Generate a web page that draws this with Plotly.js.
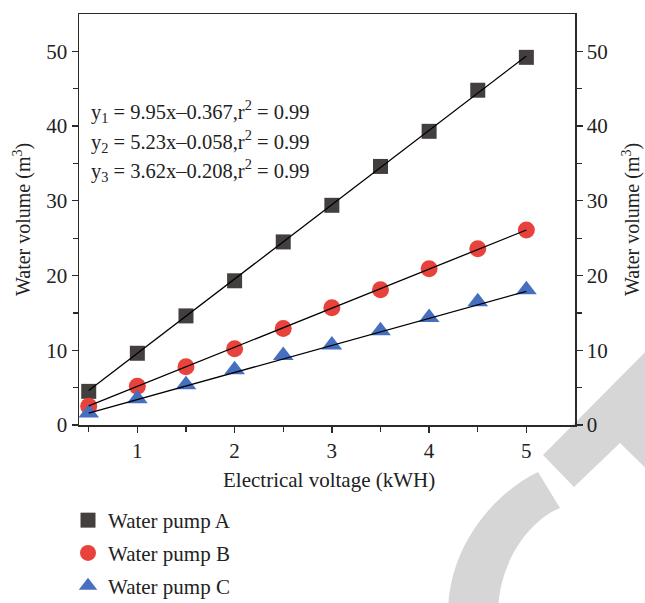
<!DOCTYPE html>
<html>
<head>
<meta charset="utf-8">
<script src="https://cdn.plot.ly/plotly-3.0.1.min.js"></script>
<style>html,body{margin:0;padding:0;background:#fff;}#chart{width:645px;height:603px;}</style>
</head>
<body>
<div id="chart"></div>
<script>
var voltage = [0.5, 1, 1.5, 2, 2.5, 3, 3.5, 4, 4.5, 5];
var pumpA = [4.5, 9.6, 14.6, 19.3, 24.5, 29.4, 34.6, 39.3, 44.8, 49.2];
var pumpB = [2.5, 5.2, 7.8, 10.2, 12.9, 15.7, 18.1, 20.9, 23.6, 26.1];
var pumpC = [1.6, 3.5, 5.4, 7.4, 9.3, 10.7, 12.6, 14.4, 16.5, 18.1];
var seriesNames = ["Water pump A", "Water pump B", "Water pump C"];
var slopes = [9.95, 5.23, 3.62];
var intercepts = [-0.367, -0.058, -0.208];
var fitRange = [0.5, 5];
var equations = [
  "y<sub>1</sub> = 9.95x\u20130.367,r<sup>2</sup> = 0.99",
  "y<sub>2</sub> = 5.23x\u20130.058,r<sup>2</sup> = 0.99",
  "y<sub>3</sub> = 3.62x\u20130.208,r<sup>2</sup> = 0.99"
];
var xTitle = "Electrical voltage (kWH)";
var yTitle = "Water volume (m<sup>3</sup>)";

var W = 645, H = 603, L = 79, R = 70, T = 14, B = 178;
var pw = W - L - R, ph = H - T - B;
function px(x){ return (x - L) / pw; }
function py(y){ return (H - B - y) / ph; }

var FONT = "Liberation Serif, Times New Roman, serif";
var colors = ["#433f3e", "#e8423d", "#4670bf"];
var symbols = ["square", "circle", "triangle-up"];
var sizes = [15, 17, 18];
var data = [pumpA, pumpB, pumpC];

var traces = [];
for (var i = 0; i < 3; i++) {
  traces.push({
    x: voltage, y: data[i], type: "scatter", mode: "markers",
    name: seriesNames[i], legendgroup: "g" + i,
    marker: {symbol: symbols[i], size: sizes[i], color: colors[i], line: {width: 0}}
  });
}
for (var j = 0; j < 3; j++) {
  traces.push({
    x: fitRange,
    y: fitRange.map(function(v){ return slopes[j] * v + intercepts[j]; }),
    type: "scatter", mode: "lines", showlegend: false, hoverinfo: "skip",
    line: {color: "#000", width: 1.3}
  });
}
traces.push({x: [fitRange[0]], y: [0], yaxis: "y2", type: "scatter", mode: "markers",
  marker: {opacity: 0}, showlegend: false, hoverinfo: "skip"});

var axisCommon = {
  showline: true, linecolor: "#2a2a2a", linewidth: 1.5, showgrid: false, zeroline: false,
  ticks: "outside", ticklen: 6, tickwidth: 1.3, tickcolor: "#2a2a2a",
  tickfont: {family: FONT, size: 21, color: "#222"}
};

var annotations = equations.map(function(t, k){
  return {xref: "paper", yref: "paper", x: px(89), y: py([111, 141, 170][k]),
    xanchor: "left", yanchor: "middle", showarrow: false, text: t,
    font: {family: FONT, size: 20.5, color: "#222"}};
});
annotations.push({xref: "paper", yref: "paper", x: px(22), y: py(220), textangle: -90,
  showarrow: false, text: yTitle, xanchor: "center", yanchor: "middle",
  font: {family: FONT, size: 20, color: "#222"}});
annotations.push({xref: "paper", yref: "paper", x: px(631), y: py(220), textangle: -90,
  showarrow: false, text: yTitle, xanchor: "center", yanchor: "middle",
  font: {family: FONT, size: 20, color: "#222"}});
annotations.push({xref: "paper", yref: "paper", x: px(329), y: py(480),
  showarrow: false, text: xTitle, xanchor: "center", yanchor: "middle",
  font: {family: FONT, size: 21, color: "#222"}});

var band1 = "M" + px(543) + "," + py(455) + " L" + px(670) + "," + py(327) +
  " L" + px(670) + "," + py(492) + " L" + px(620) + "," + py(443) +
  " L" + px(574) + "," + py(487) + " Z";
var band2 = "M" + px(538) + "," + py(472) +
  " C" + px(500) + "," + py(490) + " " + px(450) + "," + py(540) + " " + px(448) + "," + py(610) +
  " L" + px(498) + "," + py(610) +
  " C" + px(500) + "," + py(560) + " " + px(530) + "," + py(520) + " " + px(560) + "," + py(508) + " Z";

var layout = {
  width: W, height: H,
  margin: {l: L, r: R, t: T, b: B, pad: 0, autoexpand: false},
  paper_bgcolor: "#fff", plot_bgcolor: "rgba(0,0,0,0)",
  showlegend: true,
  legend: {x: px(68), y: py(500), xanchor: "left", yanchor: "top",
    font: {family: FONT, size: 21, color: "#222"}, bgcolor: "rgba(0,0,0,0)",
    traceorder: "grouped", tracegroupgap: 2.5, itemwidth: 30},
  xaxis: Object.assign({}, axisCommon, {range: [0.4, 5.5], tickvals: [1, 2, 3, 4, 5],
    mirror: true, minor: {tickvals: [0.5, 1.5, 2.5, 3.5, 4.5], ticks: "outside", ticklen: 5, tickwidth: 1.3, tickcolor: "#2a2a2a"}}),
  yaxis: Object.assign({}, axisCommon, {range: [0, 55], tickvals: [0, 10, 20, 30, 40, 50],
    minor: {tickvals: [5, 15, 25, 35, 45], ticks: "outside", ticklen: 5, tickwidth: 1.3, tickcolor: "#2a2a2a"}}),
  yaxis2: Object.assign({}, axisCommon, {range: [0, 55], tickvals: [0, 10, 20, 30, 40, 50],
    overlaying: "y", side: "right", anchor: "x",
    minor: {tickvals: [5, 15, 25, 35, 45], ticks: "outside", ticklen: 5, tickwidth: 1.3, tickcolor: "#2a2a2a"}}),
  annotations: annotations,
  shapes: [
    {type: "path", xref: "paper", yref: "paper", path: band1, fillcolor: "#d6d6d6", line: {width: 0}, layer: "below"},
    {type: "path", xref: "paper", yref: "paper", path: band2, fillcolor: "#d6d6d6", line: {width: 0}, layer: "below"}
  ]
};

Plotly.newPlot("chart", traces, layout, {displayModeBar: false, staticPlot: true});
</script>
</body>
</html>
